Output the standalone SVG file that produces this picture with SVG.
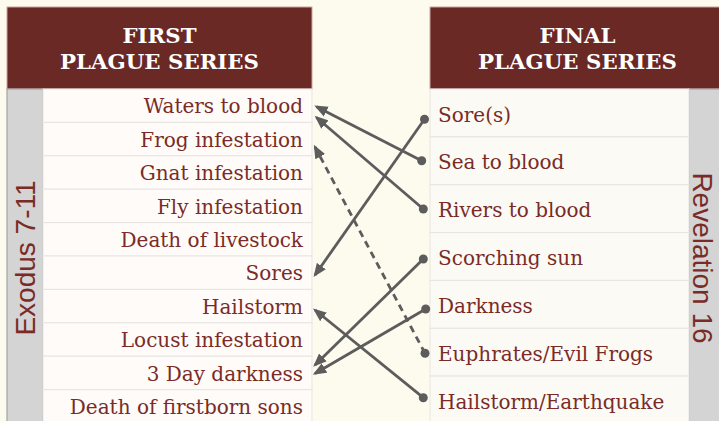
<svg xmlns="http://www.w3.org/2000/svg" width="719" height="421" viewBox="0 0 719 421">
<defs>
<style>
.hdr{fill:#6B2926;stroke:#C9A8A2;stroke-width:1}
.htx{font-family:"DejaVu Serif","Liberation Serif",serif;font-weight:bold;font-size:21.3px;fill:#FFFFFF;text-anchor:middle}
.side{fill:#D4D4D4;stroke:#A3A3A3;stroke-width:1.2}
.stx{font-family:"Liberation Sans",Arial,sans-serif;font-size:28px;fill:#7A2B27;text-anchor:middle}
.rowL{fill:#FEFBF8;stroke:#E7E5E1;stroke-width:1}
.rowR{fill:#FBFAF5;stroke:#E7E5E1;stroke-width:1}
.tL{font-family:"DejaVu Serif","Liberation Serif",serif;font-size:20px;fill:#7A2B27;text-anchor:end}
.tR{font-family:"DejaVu Serif","Liberation Serif",serif;font-size:20px;fill:#7A2B27;text-anchor:start}
.con{stroke:#5C5C5C;stroke-width:2.8;fill:none;marker-end:url(#arr)}
.dash{stroke-dasharray:7 5}
.dot{fill:#5C5C5C}
</style>
<marker id="arr" markerUnits="userSpaceOnUse" markerWidth="14" markerHeight="12" viewBox="0 0 14 12" refX="11" refY="6" orient="auto">
<path d="M0,0.5 L13.5,6 L0,11.5 z" fill="#5C5C5C"/>
</marker>
</defs>
<rect x="0" y="0" width="719" height="421" fill="#FDFBEE"/>

<g id="first-series">
<rect class="hdr" x="7" y="7" width="305" height="82"/>
<text class="htx" x="159.5" y="42.7">FIRST</text>
<text class="htx" x="159.5" y="68.7">PLAGUE SERIES</text>
</g>
<g id="exodus-label">
<rect class="side" x="7" y="89" width="36" height="340"/>
<text class="stx" transform="translate(35,258) rotate(-90)">Exodus 7-11</text>
</g>

<g id="final-series">
<rect class="hdr" x="430" y="7" width="295" height="82"/>
<text class="htx" x="577.5" y="42.7">FINAL</text>
<text class="htx" x="577.5" y="68.7">PLAGUE SERIES</text>
</g>
<g id="revelation-label">
<rect class="side" x="689" y="89" width="36" height="340"/>
<text class="stx" transform="translate(693,258) rotate(90)">Revelation 16</text>
</g>

<g id="L1"><rect class="rowL" x="43" y="89" width="269" height="33.4"/><text class="tL" x="303" y="113.3">Waters to blood</text></g>
<g id="L2"><rect class="rowL" x="43" y="122.4" width="269" height="33.4"/><text class="tL" x="303" y="146.7">Frog infestation</text></g>
<g id="L3"><rect class="rowL" x="43" y="155.8" width="269" height="33.4"/><text class="tL" x="303" y="180.1">Gnat infestation</text></g>
<g id="L4"><rect class="rowL" x="43" y="189.2" width="269" height="33.4"/><text class="tL" x="303" y="213.5">Fly infestation</text></g>
<g id="L5"><rect class="rowL" x="43" y="222.6" width="269" height="33.4"/><text class="tL" x="303" y="246.9">Death of livestock</text></g>
<g id="L6"><rect class="rowL" x="43" y="256" width="269" height="33.4"/><text class="tL" x="303" y="280.3">Sores</text></g>
<g id="L7"><rect class="rowL" x="43" y="289.4" width="269" height="33.4"/><text class="tL" x="303" y="313.7">Hailstorm</text></g>
<g id="L8"><rect class="rowL" x="43" y="322.8" width="269" height="33.4"/><text class="tL" x="303" y="347.1">Locust infestation</text></g>
<g id="L9"><rect class="rowL" x="43" y="356.2" width="269" height="33.4"/><text class="tL" x="303" y="380.5">3 Day darkness</text></g>
<g id="L10"><rect class="rowL" x="43" y="389.6" width="269" height="33.4"/><text class="tL" x="303" y="413.9">Death of firstborn sons</text></g>

<g id="R1"><rect class="rowR" x="430" y="89" width="259" height="47.9"/><text class="tR" x="438" y="121.5">Sore(s)</text></g>
<g id="R2"><rect class="rowR" x="430" y="136.9" width="259" height="47.8"/><text class="tR" x="438" y="169.4">Sea to blood</text></g>
<g id="R3"><rect class="rowR" x="430" y="184.7" width="259" height="47.9"/><text class="tR" x="438" y="217.2">Rivers to blood</text></g>
<g id="R4"><rect class="rowR" x="430" y="232.6" width="259" height="47.8"/><text class="tR" x="438" y="265.1">Scorching sun</text></g>
<g id="R5"><rect class="rowR" x="430" y="280.4" width="259" height="47.9"/><text class="tR" x="438" y="312.9">Darkness</text></g>
<g id="R6"><rect class="rowR" x="430" y="328.3" width="259" height="47.8"/><text class="tR" x="438" y="360.8">Euphrates/Evil Frogs</text></g>
<g id="R7"><rect class="rowR" x="430" y="376.1" width="259" height="47.9"/><text class="tR" x="438" y="408.6">Hailstorm/Earthquake</text></g>

<g id="connectors">
<line class="con" x1="424.5" y1="119.3" x2="315" y2="275"/>
<line class="con" x1="421.7" y1="160.7" x2="316.5" y2="106.7"/>
<line class="con" x1="423.3" y1="209" x2="316.5" y2="117.5"/>
<line class="con" x1="423.3" y1="259" x2="315" y2="365"/>
<line class="con" x1="425.7" y1="309" x2="315" y2="373.5"/>
<line class="con dash" x1="425" y1="353.3" x2="315" y2="147"/>
<line class="con" x1="423.3" y1="397.7" x2="315" y2="310"/>
<circle class="dot" cx="424.5" cy="119.3" r="4.5"/>
<circle class="dot" cx="421.7" cy="160.7" r="4.5"/>
<circle class="dot" cx="423.3" cy="209" r="4.5"/>
<circle class="dot" cx="423.3" cy="259" r="4.5"/>
<circle class="dot" cx="425.7" cy="309" r="4.5"/>
<circle class="dot" cx="425" cy="353.3" r="4.5"/>
<circle class="dot" cx="423.3" cy="397.7" r="4.5"/>
</g>
</svg>
